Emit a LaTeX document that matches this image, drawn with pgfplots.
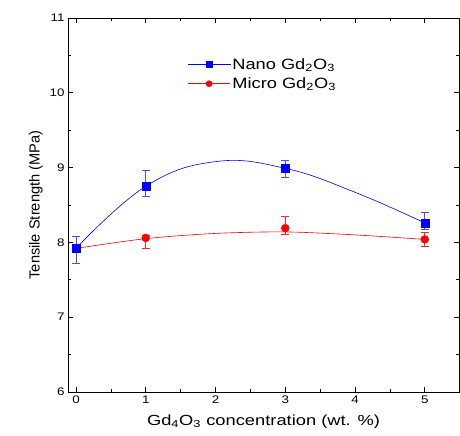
\documentclass[border=0pt]{standalone}
\usepackage{fontspec}
\setmainfont{Liberation Sans}
\usepackage{graphicx}
\usepackage{pgfplots}
\pgfplotsset{compat=1.18}
\usetikzlibrary{calc}
\newcommand{\sx}[1]{\scalebox{1.22}[1]{#1}}
\begin{document}
\begin{tikzpicture}
\begin{axis}[name=ax, scale only axis, width=391bp, height=374bp,
  xmin=-0.115, xmax=5.49, ymin=6, ymax=11,
  xtick={0,...,5}, ytick={6,...,11}, minor x tick num=1, minor y tick num=1,
  tick align=inside, major tick length=5bp, minor tick length=3bp,
  axis line style={line width=0.9bp}, tick style={line width=0.8bp, black},
  /pgf/number format/assume math mode=true,
  xticklabel={\sx{\pgfmathprintnumber{\tick}}},
  yticklabel={\sx{\pgfmathprintnumber{\tick}}},
  tick label style={font=\fontsize{11}{13}\selectfont},
  xlabel={\scalebox{1.25}[1]{Gd\textsubscript{4}O\textsubscript{3} concentration (wt. \%)}},
  xlabel style={yshift=-5bp},
  ylabel={Tensile Strength (MPa)},
  label style={font=\fontsize{14.7}{16}\selectfont},
  reverse legend, legend cell align=left,
  legend style={at={(axis cs:1.6,10.25)}, anchor=west, draw=none, fill=none,
    inner xsep=0pt, row sep=3bp, font=\fontsize{15}{17}\selectfont},
  legend image code/.code={\draw[mark repeat=2,mark phase=2,#1] plot coordinates {(0bp,0bp)(21bp,0bp)(42bp,0bp)};},
]
% fitted curves
\addplot[red, line width=0.6bp, smooth, mark=none,
  legend image post style={mark=*, mark size=3bp}] table {
x y
0 7.92
1 8.05
2 8.12
3 8.14
4 8.10
5 8.04
};
\addlegendentry{\sx{Micro Gd\textsubscript{2}O\textsubscript{3}}}
\addplot[forget plot, red, only marks, mark=*, mark size=4bp,
  error bars/.cd, y dir=both, y explicit,
  error bar style={line width=0.8bp, red!85},
  error mark options={rotate=90, mark size=4bp, line width=0.8bp, red!85}]
  table[x=x, y=y, y error plus=ep, y error minus=em] {
x y ep em
0 7.92 0.05 0.05
1 8.06 0.04 0.14
3 8.19 0.16 0.08
5 8.04 0.09 0.10
};
\addplot[blue, line width=0.6bp, smooth, tension=0.7, mark=none,
  legend image post style={mark=square*, mark size=3bp}] table {
x y
0 7.92
1 8.75
2 9.08
3 8.99
4 8.67
5 8.26
};
\addlegendentry{\sx{Nano Gd\textsubscript{2}O\textsubscript{3}}}
\addplot[forget plot, blue, only marks, mark=square*, mark size=4bp,
  error bars/.cd, y dir=both, y explicit,
  error bar style={line width=0.8bp, blue!70},
  error mark options={rotate=90, mark size=4bp, line width=0.8bp, blue!70}]
  table[x=x, y=y, y error plus=ep, y error minus=em] {
x y ep em
0 7.92 0.16 0.20
1 8.75 0.21 0.14
3 8.99 0.11 0.12
5 8.26 0.14 0.09
};
\end{axis}
\pgfresetboundingbox
\path[use as bounding box] ($(ax.south west)+(-68bp,-44bp)$) rectangle ($(ax.north east)+(1bp,18bp)$);
\end{tikzpicture}
\end{document}
